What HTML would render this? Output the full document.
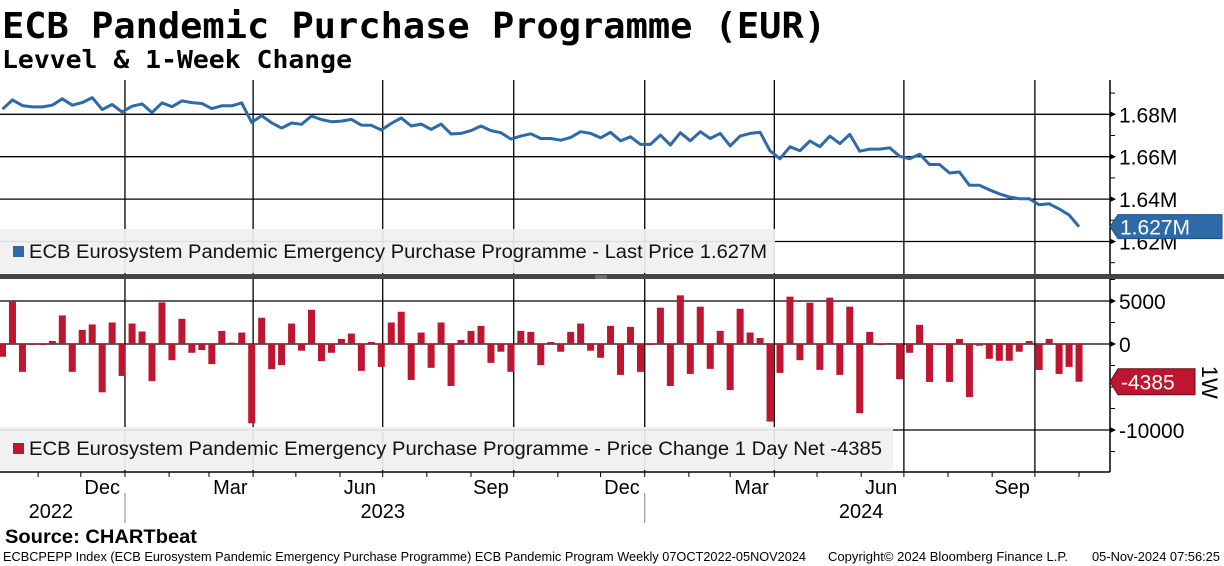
<!DOCTYPE html>
<html><head><meta charset="utf-8"><style>
html,body{margin:0;padding:0;background:#fff;width:1224px;height:566px;overflow:hidden}
svg{display:block}
text{font-family:"Liberation Sans",sans-serif}
.mono{font-family:"DejaVu Sans Mono","Liberation Mono",monospace;font-weight:bold}
</style></head><body>
<svg id="chart" width="1224" height="566" xmlns="http://www.w3.org/2000/svg">
<text class="mono" x="2" y="38" font-size="36" textLength="824" lengthAdjust="spacingAndGlyphs">ECB Pandemic Purchase Programme (EUR)</text>
<text class="mono" x="2" y="68" font-size="25" textLength="350" lengthAdjust="spacingAndGlyphs">Levvel &amp; 1-Week Change</text>
<g id="grid"></g>
<g id="bars"></g>
<g id="line"></g>
<g id="axes"></g>
<rect x="0" y="229" width="775" height="44" fill="#f0f0f0" opacity="0.92"/>
<rect x="13" y="246" width="11" height="11" fill="#2e6aa8"/>
<text x="29" y="258" font-size="19" fill="#111" textLength="738" lengthAdjust="spacingAndGlyphs">ECB Eurosystem Pandemic Emergency Purchase Programme - Last Price 1.627M</text>
<rect x="0" y="427" width="893" height="43" fill="#f0f0f0" opacity="0.92"/>
<rect x="13" y="443" width="11" height="11" fill="#be1530"/>
<text x="29" y="455" font-size="19" fill="#111" textLength="853" lengthAdjust="spacingAndGlyphs">ECB Eurosystem Pandemic Emergency Purchase Programme - Price Change 1 Day Net -4385</text>
<rect x="0" y="274" width="1224" height="5" fill="#444"/>
<line x1="595" y1="276" x2="607" y2="276" stroke="#999" stroke-width="1"/>
<line x1="595" y1="278" x2="607" y2="278" stroke="#999" stroke-width="1"/>
<g id="tags"></g>
<text x="5" y="543" font-size="19" font-weight="bold" fill="#000" textLength="192" lengthAdjust="spacingAndGlyphs">Source: CHARTbeat</text>
<text x="3" y="561" font-size="12.5" fill="#000" textLength="803" lengthAdjust="spacingAndGlyphs">ECBCPEPP Index (ECB Eurosystem Pandemic Emergency Purchase Programme) ECB Pandemic Program  Weekly 07OCT2022-05NOV2024</text>
<text x="828" y="561" font-size="12.5" fill="#000" textLength="240" lengthAdjust="spacingAndGlyphs">Copyright© 2024 Bloomberg Finance L.P.</text>
<text x="1092" y="561" font-size="12.5" fill="#000" textLength="128" lengthAdjust="spacingAndGlyphs">05-Nov-2024 07:56:25</text>
</svg>
<script>
const levels=[1.6824,1.6868,1.6841,1.6835,1.6835,1.6843,1.6873,1.6843,1.6855,1.6879,1.6822,1.6846,1.6811,1.6838,1.6849,1.6808,1.6854,1.6836,1.6863,1.6855,1.6851,1.6827,1.6840,1.6840,1.6854,1.6762,1.6794,1.6760,1.6735,1.6759,1.6753,1.6792,1.6775,1.6765,1.6768,1.6776,1.6749,1.6748,1.6726,1.6757,1.6783,1.6745,1.6754,1.6729,1.6754,1.6707,1.6710,1.6723,1.6745,1.6723,1.6713,1.6683,1.6697,1.6708,1.6686,1.6686,1.6678,1.6691,1.6718,1.6710,1.6689,1.6715,1.6675,1.6694,1.6658,1.6658,1.6702,1.6655,1.6713,1.6675,1.6718,1.6686,1.6710,1.6651,1.6697,1.6710,1.6715,1.6628,1.6590,1.6647,1.6628,1.6674,1.6647,1.6697,1.6662,1.6705,1.6626,1.6636,1.6636,1.6642,1.6602,1.6590,1.6612,1.6563,1.6563,1.6523,1.6528,1.6465,1.6465,1.6444,1.6425,1.6410,1.6402,1.6402,1.6373,1.6378,1.6354,1.6325,1.6270];
const changes=[-1480,5000,-3240,-50,-50,350,3320,-3240,1640,2270,-5620,2500,-3710,2380,1450,-4300,4840,-1880,2930,-1020,-700,-2340,1520,160,1330,-9220,3050,-2930,-2460,2380,-780,3980,-1990,-1020,590,1210,-3125,230,-2660,2500,3750,-4180,1330,-2770,2500,-4880,470,1520,2110,-2190,-900,-3240,1520,1410,-2460,230,-900,1410,2380,-780,-1600,2110,-3590,1990,-3240,-50,4220,-4880,5660,-3480,4340,-2890,1520,-5350,4100,1330,700,-9020,-3360,5510,-1880,4800,-3010,5390,-3590,4340,-8050,1410,-50,120,-4100,-1020,2230,-4410,-80,-4410,590,-6170,-200,-1720,-1950,-1950,-900,350,-3010,590,-3480,-2660,-4385];
const levelTicks=[1.62,1.64,1.66,1.68];
const levelTickLabels=["1.62M","1.64M","1.66M","1.68M"];
const changeTicks=[-10000,0,5000];
const changeTickLabels=["-10000","0","5000"];
const monthLabels=["Dec","Mar","Jun","Sep","Dec","Mar","Jun","Sep"];
const monthLabelDates=["2022-12-16","2023-03-16","2023-06-15","2023-09-15","2023-12-16","2024-03-16","2024-06-15","2024-09-15"];
const quarterLines=["2023-01-01","2023-04-01","2023-07-01","2023-10-01","2024-01-01","2024-04-01","2024-07-01","2024-10-01"];
const yearLabels=["2022","2023","2024"];
const yearLabelDates=["2022-11-10","2023-07-01","2024-06-01"];
const startDate="2022-10-07";
const lastLevelLabel="1.627M", lastChangeLabel="-4385";

const NS="http://www.w3.org/2000/svg";
const DAY=86400000, X0=2.5, PXD=1.424, PLOT_R=1110;
const t0=Date.parse(startDate);
const xDate=d=>X0+(Date.parse(d)-t0)/DAY*PXD;
const xIdx=i=>X0+i*7*PXD;
const yTop=v=>114.3+(1.68-v)*2120;
const yBot=v=>344-v*0.0086;
function mk(tag,attrs,parent){const e=document.createElementNS(NS,tag);for(const k in attrs)e.setAttribute(k,attrs[k]);parent.appendChild(e);return e;}
const grid=document.getElementById('grid'),axes=document.getElementById('axes'),bars=document.getElementById('bars'),line=document.getElementById('line'),tags=document.getElementById('tags');

// horizontal gridlines
levelTicks.forEach((v,i)=>{
  const g=mk('line',{x1:0,x2:PLOT_R,y1:yTop(v),y2:yTop(v),stroke:'#000','stroke-width':1.3},grid);
  
  
  const t=mk('text',{x:1119,y:yTop(v)+8,'font-size':21,fill:'#000'},axes);
  
  
  t.textContent=levelTickLabels[i];
  mk('path',{d:`M${PLOT_R},${yTop(v)-3}L${PLOT_R+6},${yTop(v)}L${PLOT_R},${yTop(v)+3}Z`,fill:'#000'},axes);
});
for(let v=1.61;v<=1.695;v+=0.01){mk('line',{x1:PLOT_R,x2:PLOT_R+5,y1:yTop(v),y2:yTop(v),stroke:'#000'},axes);}
changeTicks.forEach((v,i)=>{
  const g=mk('line',{x1:0,x2:PLOT_R,y1:yBot(v),y2:yBot(v),stroke:'#000','stroke-width':1.3},grid);
  
  
  const t=mk('text',{x:1119,y:yBot(v)+8,'font-size':21,fill:'#000'},axes);
  
  
  t.textContent=changeTickLabels[i];
  mk('path',{d:`M${PLOT_R},${yBot(v)-3}L${PLOT_R+6},${yBot(v)}L${PLOT_R},${yBot(v)+3}Z`,fill:'#000'},axes);
});
for(let v=-12500;v<=7500;v+=2500){mk('line',{x1:PLOT_R,x2:PLOT_R+5,y1:yBot(v),y2:yBot(v),stroke:'#000'},axes);}
// vertical quarter lines
quarterLines.forEach(d=>{
  const x=xDate(d);
  const g=mk('line',{x1:x,x2:x,y1:80,y2:472,stroke:'#000','stroke-width':1.3},grid);
  
  
});
// month ticks
for(let y=2022;y<=2024;y++)for(let m=0;m<12;m++){
  const d=Date.UTC(y,m,1);const x=X0+(d-t0)/DAY*PXD;
  if(x>0&&x<PLOT_R)mk('line',{x1:x,x2:x,y1:472,y2:477,stroke:'#000'},axes);
}
// axes lines
mk('line',{x1:PLOT_R,x2:PLOT_R,y1:80,y2:472,stroke:'#000','stroke-width':1.5},axes);
mk('line',{x1:0,x2:PLOT_R,y1:472,y2:472,stroke:'#000','stroke-width':1.5},axes);
monthLabels.forEach((l,i)=>{
  const t=mk('text',{x:xDate(monthLabelDates[i]),y:494,'font-size':20,'text-anchor':'middle',fill:'#000'},axes);
  
  
  t.textContent=l;
});
yearLabels.forEach((l,i)=>{
  const t=mk('text',{x:xDate(yearLabelDates[i]),y:518,'font-size':20,'text-anchor':'middle',fill:'#000'},axes);
  
  
  t.textContent=l;
});
["2023-01-01","2024-01-01"].forEach(d=>{mk('line',{x1:xDate(d),x2:xDate(d),y1:493,y2:523,stroke:'#888'},axes);});
// bars
changes.forEach((v,i)=>{
  const x=xIdx(i),y0=yBot(0),y1=yBot(v);
  const r=mk('rect',{x:x-3.5,y:Math.min(y0,y1),width:7,height:Math.max(1,Math.abs(y1-y0)),fill:'#be1530'},bars);
  
  
});
// line
const pts=levels.map((v,i)=>xIdx(i).toFixed(1)+','+yTop(v).toFixed(1)).join(' ');
const pl=mk('polyline',{points:pts,fill:'none',stroke:'#2e6aa8','stroke-width':3,'stroke-linejoin':'round'},line);


// tags
const ly=yTop(levels[levels.length-1]);
const bt=mk('path',{d:`M1110,${ly}L1118,${ly-12}L1222,${ly-12}L1222,${ly+12}L1118,${ly+12}Z`,fill:'#2e6aa8',stroke:'#1d4f86'},tags);


const btt=mk('text',{x:1120,y:ly+8,'font-size':21,fill:'#fff'},tags);


btt.textContent=lastLevelLabel;
const cy=yBot(changes[changes.length-1]);
const rt=mk('path',{d:`M1110,${cy}L1118,${cy-13}L1195,${cy-13}L1195,${cy+13}L1118,${cy+13}Z`,fill:'#be1530',stroke:'#6a0a18'},tags);


const rtt=mk('text',{x:1121,y:cy+8,'font-size':21,fill:'#fff'},tags);


rtt.textContent=lastChangeLabel;
const w=mk('text',{x:0,y:0,'font-size':22,fill:'#000',transform:`translate(1202,${cy-16}) rotate(90)`},tags);


w.textContent='1W';
</script>
</body></html>
